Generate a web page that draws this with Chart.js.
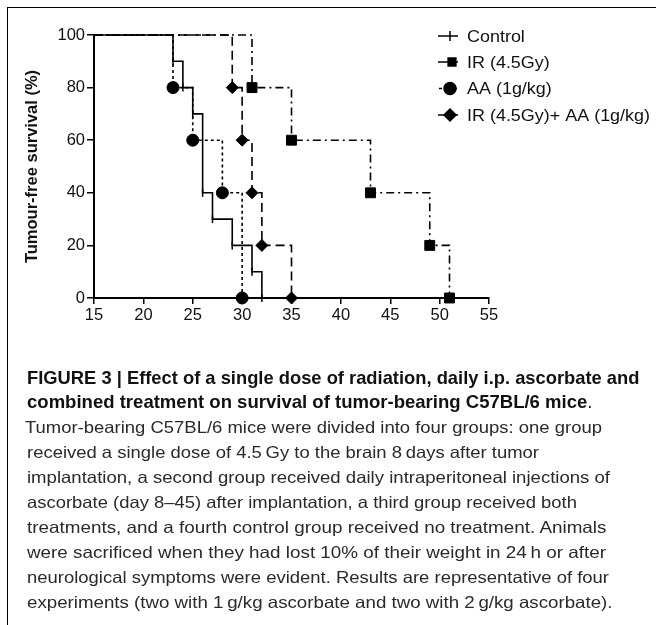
<!DOCTYPE html>
<html>
<head>
<meta charset="utf-8">
<script src="https://cdn.jsdelivr.net/npm/chart.js@4.4.1/dist/chart.umd.min.js"></script>
<style>
  html, body { margin: 0; padding: 0; background: #fff; }
  body { width: 656px; height: 625px; position: relative; overflow: hidden; }
  #chart { position: absolute; left: 0; top: 0; }
  #frame { position: absolute; left: 7px; top: 7px; width: 660px; height: 630px;
           border-top: 1.5px solid #000; border-left: 1.5px solid #000; pointer-events: none; }
  .cap { position: absolute; white-space: nowrap; transform-origin: 0 50%; line-height: 20px; }
  .b { font-family: 'Liberation Sans Narrow', 'Liberation Sans', Arial, sans-serif; font-weight: bold; font-size: 19px; color: #111; }
  .r { font-family: 'Liberation Sans', Arial, sans-serif; font-size: 16.5px; color: #2a2a2a; }
  .r2 { font-family: 'Liberation Sans', Arial, sans-serif; font-weight: normal; }
</style>
</head>
<body>
<canvas id="chart" width="656" height="340"></canvas>
<div id="frame"></div>
<div id="caption"></div>
<script>
// ---- data ----
const seriesNames = ['Control', 'IR (4.5Gy)', 'AA (1g/kg)', 'IR (4.5Gy)+ AA (1g/kg)'];
const controlDays = [15, 23, 24, 25, 26, 27, 29, 31, 32];
const controlSurv = [100, 90, 80, 70, 40, 30, 20, 10, 0];
const irDays = [15, 31, 35, 43, 49, 51];
const irSurv = [100, 80, 60, 40, 20, 0];
const aaDays = [15, 23, 25, 28, 30];
const aaSurv = [100, 80, 60, 40, 0];
const comboDays = [15, 29, 30, 31, 32, 35];
const comboSurv = [100, 80, 60, 40, 20, 0];
const xTicks = [15, 20, 25, 30, 35, 40, 45, 50, 55];
const yTicks = [0, 20, 40, 60, 80, 100];
const yTitle = 'Tumour-free survival (%)';

const captionLines = [
  {cls: 'b', html: 'FIGURE 3 | Effect of a single dose of radiation, daily i.p. ascorbate and', x: 26.5, right: 639, cy: 378},
  {cls: 'b', html: 'combined treatment on survival of tumor-bearing C57BL/6 mice<span class="r2">.</span>', x: 26.5, right: 592, cy: 402},
  {cls: 'r', html: 'Tumor-bearing C57BL/6 mice were divided into four groups: one group', x: 25, right: 602, cy: 427},
  {cls: 'r', html: 'received a single dose of 4.5\u2009Gy to the brain 8\u2009days after tumor', x: 27, right: 539, cy: 452},
  {cls: 'r', html: 'implantation, a second group received daily intraperitoneal injections of', x: 27, right: 610, cy: 477},
  {cls: 'r', html: 'ascorbate (day 8\u201345) after implantation, a third group received both', x: 27, right: 577, cy: 502},
  {cls: 'r', html: 'treatments, and a fourth control group received no treatment. Animals', x: 27, right: 606.5, cy: 527},
  {cls: 'r', html: 'were sacrificed when they had lost 10% of their weight in 24\u2009h or after', x: 27, right: 606, cy: 552},
  {cls: 'r', html: 'neurological symptoms were evident. Results are representative of four', x: 27, right: 609, cy: 577},
  {cls: 'r', html: 'experiments (two with 1\u2009g/kg ascorbate and two with 2\u2009g/kg ascorbate).', x: 27, right: 612.5, cy: 602}
];

// ---- caption ----
const capEl = document.getElementById('caption');
captionLines.forEach(l => {
  const d = document.createElement('div');
  d.className = 'cap ' + l.cls;
  d.innerHTML = l.html;
  d.style.left = l.x + 'px';
  d.style.top = (l.cy - 10) + 'px';
  capEl.appendChild(d);
  const w = d.getBoundingClientRect().width;
  d.style.transform = 'scaleX(' + ((l.right - l.x) / w).toFixed(4) + ')';
});

// ---- chart ----
const toPts = (xs, ys) => xs.map((x, i) => ({x: x, y: ys[i]}));
const hideFirst = r => (c => c.dataIndex === 0 ? 0 : r);

const datasets = [
  {label: seriesNames[0], data: toPts(controlDays, controlSurv), borderDash: [],
   pointStyle: 'line', pointRotation: 90, pointRadius: hideFirst(4), pointBorderWidth: 1.5},
  {label: seriesNames[1], data: toPts(irDays, irSurv), borderDash: [8, 4, 2, 4],
   pointStyle: 'rect', pointRadius: hideFirst(7), pointBorderWidth: 1},
  {label: seriesNames[2], data: toPts(aaDays, aaSurv), borderDash: [3, 3],
   pointStyle: 'circle', pointRadius: hideFirst(6), pointBorderWidth: 1},
  {label: seriesNames[3], data: toPts(comboDays, comboSurv), borderDash: [9, 5],
   pointStyle: 'rectRot', pointRadius: hideFirst(6), pointBorderWidth: 1}
].map(d => Object.assign({
  stepped: 'before', borderColor: '#000', backgroundColor: '#000', pointBackgroundColor: '#000',
  pointBorderColor: '#000', borderWidth: 1.6, fill: false, clip: false, pointHoverRadius: 0
}, d));

const legendPlugin = {
  id: 'customLegend',
  afterDraw(chart) {
    const ctx = chart.ctx;
    const rows = [36, 62, 88.5, 115];
    const textX = 467, textRight = 650;
    ctx.save();
    ctx.font = '17px "Liberation Sans", Arial, sans-serif';
    const longest = Math.max(...chart.data.datasets.map(d => ctx.measureText(d.label).width));
    const sx = (textRight - textX) / longest;
    ctx.restore();
    chart.data.datasets.forEach((ds, i) => {
      const y = rows[i];
      ctx.save();
      ctx.strokeStyle = '#000';
      ctx.fillStyle = '#000';
      ctx.lineWidth = 1.5;
      ctx.setLineDash([]);
      ctx.beginPath();
      if (i === 2) { ctx.moveTo(439, y); ctx.lineTo(442, y); ctx.moveTo(447, y); ctx.lineTo(457, y); }
      else { ctx.moveTo(438, y); ctx.lineTo(458, y); }
      ctx.stroke();
      const r = [5, 5.5, 6, 6][i];
      Chart.helpers.drawPoint(ctx, {pointStyle: ds.pointStyle, rotation: ds.pointRotation || 0,
        radius: r, borderWidth: ds.pointBorderWidth}, i === 1 ? 452 : 450, y);
      if (ds.pointStyle !== 'line') ctx.fill();
      ctx.font = '17px "Liberation Sans", Arial, sans-serif';
      ctx.textBaseline = 'middle';
      ctx.fillStyle = '#111';
      ctx.translate(textX, y + 1);
      ctx.scale(sx, 1);
      ctx.fillText(ds.label, 0, 0);
      ctx.restore();
    });
  }
};

new Chart(document.getElementById('chart'), {
  type: 'line',
  data: {datasets: datasets},
  options: {
    responsive: false,
    animation: false,
    devicePixelRatio: 1,
    layout: {padding: {left: 0, top: 35, right: 167, bottom: 0}},
    plugins: {legend: {display: false}, tooltip: {enabled: false}},
    scales: {
      x: {
        type: 'linear', min: 15, max: 55,
        afterFit: s => { s.height = 42; },
        afterBuildTicks: s => { s.ticks = xTicks.map(v => ({value: v})); },
        border: {display: true, color: '#000', width: 2},
        grid: {drawOnChartArea: false, drawTicks: true, tickLength: 6, color: '#000', lineWidth: 1.5},
        ticks: {color: '#111', padding: 2, maxRotation: 0, font: {family: '"Liberation Sans", Arial, sans-serif', size: 16.5}}
      },
      y: {
        type: 'linear', min: 0, max: 100,
        afterFit: s => { s.width = 94; },
        afterBuildTicks: s => { s.ticks = yTicks.map(v => ({value: v})); },
        border: {display: true, color: '#000', width: 2},
        grid: {drawOnChartArea: false, drawTicks: true, tickLength: 7, color: '#000', lineWidth: 1.5},
        ticks: {color: '#111', padding: 2, font: {family: '"Liberation Sans", Arial, sans-serif', size: 16.5}},
        title: {display: true, text: yTitle, color: '#111', padding: {top: 23, bottom: 0},
                font: {family: '"Liberation Sans", Arial, sans-serif', size: 16.5, weight: 'bold'}}
      }
    }
  },
  plugins: [legendPlugin]
});
</script>
</body>
</html>
